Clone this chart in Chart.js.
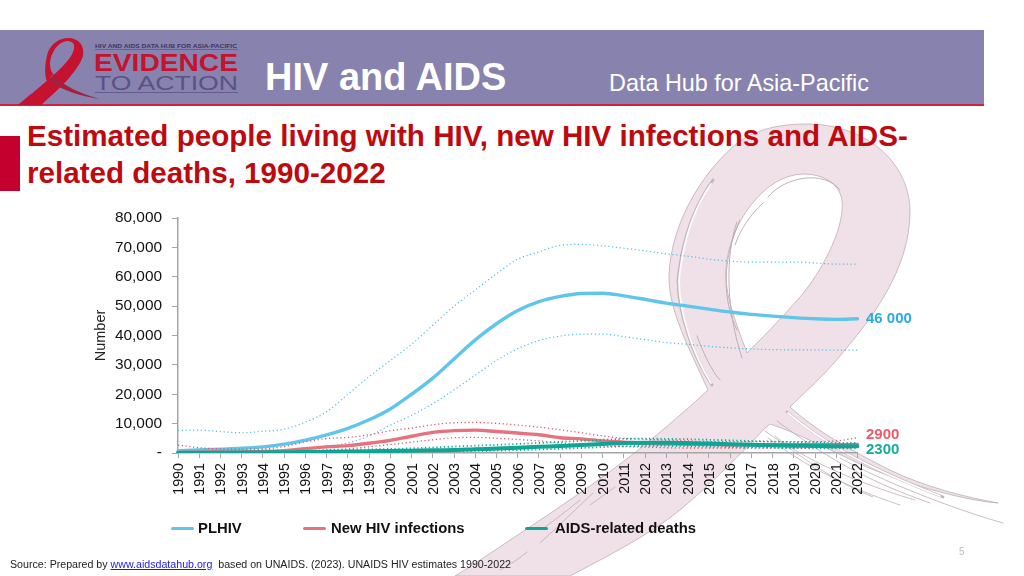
<!DOCTYPE html>
<html>
<head>
<meta charset="utf-8">
<script src="https://cdn.jsdelivr.net/npm/chart.js@4"></script>
<style>
  html, body { margin: 0; padding: 0; background: #fff; }
  body { position: relative; width: 1024px; height: 576px; overflow: hidden; font-family: "Liberation Sans", Arial, sans-serif; }
  .abs { position: absolute; white-space: nowrap; }
  #ribbon, #logo { position: absolute; left: 0; top: 0; }
  #header { position: absolute; left: 0; top: 30px; width: 984px; height: 74px; background: #8882ae; border-bottom: 2px solid #d4213f; box-sizing: content-box; }
  #title { left: 27px; top: 118px; font-size: 29.6px; line-height: 36.5px; font-weight: bold; color: #bd0a0f; }
  #redbar { position: absolute; left: 0; top: 136px; width: 20px; height: 55px; background: #c4002f; }
  canvas { position: absolute; left: 0; top: 0; }
  .key { top: 520px; font-size: 14.85px; font-weight: bold; color: #111; line-height: 17px; }
  .swatch { position: absolute; top: 526.5px; width: 23px; height: 3px; border-radius: 2px; }
  #source { left: 10px; top: 558px; font-size: 10.65px; color: #222; }
  #source a { color: #1a1ae0; }
</style>
</head>
<body>
<svg id="ribbon" width="1024" height="576" viewBox="0 0 1024 576">
  <path fill="#f0e0e7" stroke="#bcaeb4" stroke-width="0.8" fill-rule="evenodd" d="M708 390 C690 350 668 310 669 275 C671 225 700 175 735 145 C760 125 790 124 810 124 C870 126 910 165 910 212 C910 270 870 320 845 350 C825 375 805 392 790 407 C815 430 850 450 890 470 C925 487 965 497 998 503 C960 500 900 482 860 464 C830 450 795 432 770 424 L763 430 C745 450 710 485 680 510 C650 535 600 560 570 576 L455 576 C465 570 475 563 480 560 C540 520 600 482 653 438 C675 420 695 402 708 390 Z M747 353 C735 320 722 290 727 260 C733 220 765 175 803 174 C830 174 845 190 842 210 C840 240 815 280 800 297 C780 320 760 340 747 353 Z"/>
  <g fill="none" stroke-linecap="round">
    <path stroke="#c4b6bc" stroke-width="2.8" d="M713 180 C695 205 682 240 678 280 C678 315 695 360 712 385"/>
    <path stroke="#fff" stroke-width="1.8" d="M711 184 C695 207 683 240 679 280 C679 315 695 358 711 383"/>
    <path stroke="#b8aab0" stroke-width="0.9" d="M740 220 C722 260 722 300 737 330 M737 222 C725 255 726 310 742 358 M697 336 C702 350 712 372 720 380"/>
    <path stroke="#b8aab0" stroke-width="0.9" d="M768 197 C785 176 825 170 840 190 M763 203 C750 215 740 230 735 245"/>
    <path stroke="#c4b6bc" stroke-width="2.8" d="M787 412 C820 440 860 465 943 497"/>
    <path stroke="#fff" stroke-width="1.8" d="M788 413 C820 440 860 465 940 496"/>
    <path stroke="#bcaeb4" stroke-width="0.8" d="M840 458 C880 480 950 508 1003 523 M777 421 C810 445 850 475 930 503 M765 431 C790 448 830 480 873 497 M775 436 C810 465 880 490 915 500 M768 438 C800 462 840 485 900 505"/>
    <path stroke="#bcaeb4" stroke-width="0.8" d="M540 543 C560 525 580 505 593 493 M580 500 C565 512 555 520 545 527 M500 570 C510 565 520 558 527 552 M590 505 L615 487"/>
  </g>
</svg>

<div id="header"></div>
<div id="redbar"></div>

<svg id="logo" width="260" height="110" viewBox="0 0 260 110">
  <path fill="#c4122f" d="M18 105 C38 88 62 70 71 56 C77 46 74 41 67 41 C58 42 51 52 50 63 C50 68 51 71 53 74 L47 82 C44 74 45 62 48 52 C52 43 60 38 68 38 C79 38 85 46 83 56 C78 72 56 92 41 105 Z"/>
  <path fill="#a5203f" d="M53 74 C62 86 82 94 100 99 C80 96 62 90 50 82 Z"/>
  <text x="95" y="47.5" font-size="6" font-weight="bold" fill="#3d3565" textLength="142" lengthAdjust="spacingAndGlyphs">HIV AND AIDS DATA HUB FOR ASIA-PACIFIC</text>
  <line x1="95" y1="49.5" x2="238" y2="49.5" stroke="#5a5285" stroke-width="0.7"/>
  <text x="94" y="71" font-size="24.5" font-weight="bold" fill="#c4122f" textLength="144" lengthAdjust="spacingAndGlyphs">EVIDENCE</text>
  <text x="95" y="90" font-size="21" fill="#5a5285" textLength="143" lengthAdjust="spacingAndGlyphs">TO ACTION</text>
  <line x1="95" y1="92.5" x2="238" y2="92.5" stroke="#5a5285" stroke-width="0.8"/>
</svg>

<div class="abs" style="left:265px;top:55px;font-size:38px;line-height:44px;font-weight:bold;color:#fff;">HIV and AIDS</div>
<div class="abs" style="left:609px;top:69px;font-size:23.4px;line-height:28px;color:#fff;">Data Hub for Asia-Pacific</div>
<div class="abs" id="title">Estimated people living with HIV, new HIV infections and AIDS-<br>related deaths, 1990-2022</div>

<canvas id="chart" width="1024" height="576"></canvas>

<div class="swatch" style="left:171px;background:#5fc6ea;"></div>
<div class="abs key" style="left:198px;">PLHIV</div>
<div class="swatch" style="left:303px;background:#e8717d;"></div>
<div class="abs key" style="left:331px;">New HIV infections</div>
<div class="swatch" style="left:525px;background:#0fa596;"></div>
<div class="abs key" style="left:555px;">AIDS-related deaths</div>

<div class="abs" id="source">Source: Prepared by <a href="#">www.aidsdatahub.org</a>&nbsp; based on UNAIDS. (2023). UNAIDS HIV estimates 1990-2022</div>
<div class="abs" style="left:959px;top:546px;font-size:10px;color:#bdbdbd;">5</div>

<script>
const years = ["1990","1991","1992","1993","1994","1995","1996","1997","1998","1999","2000","2001","2002","2003","2004","2005","2006","2007","2008","2009","2010","2011","2012","2013","2014","2015","2016","2017","2018","2019","2020","2021","2022"];
const yTickLabels = ["-","10,000","20,000","30,000","40,000","50,000","60,000","70,000","80,000"];
const endLabels = ["46 000","2900","2300"];

const plhiv = [800,1000,1300,1600,2100,3000,4400,6200,8400,11300,15000,20000,25500,32000,38500,44000,48500,51500,53300,54300,54400,53500,52300,51000,50000,49000,48000,47200,46600,46100,45700,45500,45700];
const plhivHigh = [7700,7800,7300,6900,7400,8100,10500,14000,20000,26000,31500,37000,43500,50000,55500,61000,66000,68500,70700,71000,70500,69700,68800,67800,67000,66000,65300,65000,65000,65000,64700,64300,64300];
const plhivLow = [400,500,700,900,1200,1000,1600,2300,3400,5800,9500,12800,16800,21500,26500,31500,35500,38300,39800,40500,40500,39600,38600,37600,37000,36300,35800,35400,35200,35100,35100,35000,35000];

const newInf = [200,300,350,400,500,800,1500,2100,2500,3300,4300,5700,7000,7600,7800,7300,6800,6200,5200,4800,4100,3700,3300,3100,3000,2900,2800,2800,2800,2800,2800,2800,2900];
const newInfHigh = [2700,1800,1400,1300,1400,2200,3800,4900,5300,6200,7600,8500,9600,10300,10400,10100,9500,8800,7900,6900,5800,5000,4700,4400,4100,3900,3900,3900,3900,3900,3900,4100,5200];
const newInfLow = [100,150,200,300,300,500,800,1100,1400,2100,2900,3700,4500,5200,5300,5000,4600,4100,3400,2900,2500,2200,2000,1800,1700,1700,1700,1700,1700,1700,1800,1800,1900];

const deaths = [30,100,100,150,200,250,300,400,500,600,700,800,900,1000,1300,1500,1800,2100,2400,2700,3100,3400,3500,3500,3400,3200,3000,2800,2600,2500,2400,2300,2300];
const deathsHigh = [100,150,200,250,300,400,600,800,1000,1200,1400,1600,1900,2200,2500,2800,3100,3400,3800,4100,4500,4800,4900,4800,4700,4500,4300,4100,3900,3700,3600,3400,3400];
const deathsLow = [20,50,50,80,100,120,150,200,250,300,350,450,500,600,700,800,1000,1200,1400,1700,2000,2300,2400,2400,2300,2200,2100,1900,1800,1700,1600,1600,1600];

const blue = "#5fc6ea", red = "#e8717d", teal = "#0fa596";

function solid(label, data, color, order, w) {
  return { label, data, borderColor: color, borderWidth: w, pointRadius: 0, cubicInterpolationMode: "monotone", order, borderCapStyle: "round" };
}
function dotted(label, data, color, order, w) {
  return { label, data, borderColor: color, borderWidth: w, borderDash: [1.2, 2.6], pointRadius: 0, cubicInterpolationMode: "monotone", order };
}

// end of line values, placed next to the last point of each solid line
const endLabelPlugin = {
  id: "endLabels",
  afterDatasetsDraw(chart) {
    const ctx = chart.ctx;
    const rows = [[0, "#2aabe2", 0], [3, "#ee5a68", -9.5], [6, "#12ac9a", 4]];
    ctx.save();
    ctx.font = "bold 15px 'Liberation Sans'";
    ctx.textBaseline = "middle";
    rows.forEach(([idx, color, dy], i) => {
      const pts = chart.getDatasetMeta(idx).data;
      const p = pts[pts.length - 1];
      ctx.fillStyle = color;
      ctx.fillText(endLabels[i], p.x + 8.5, p.y + dy);
    });
    ctx.restore();
  }
};

new Chart(document.getElementById("chart"), {
  type: "line",
  data: {
    labels: years,
    datasets: [
      solid("PLHIV", plhiv, blue, 6, 3.4),
      dotted("PLHIV upper", plhivHigh, "#4fbfe4", 7, 1.2),
      dotted("PLHIV lower", plhivLow, "#4fbfe4", 7, 1.2),
      solid("New HIV infections", newInf, red, 4, 3.4),
      dotted("New upper", newInfHigh, "#e0506a", 5, 1.3),
      dotted("New lower", newInfLow, "#e0506a", 5, 1.3),
      solid("AIDS-related deaths", deaths, teal, 1, 4),
      dotted("Deaths upper", deathsHigh, teal, 2, 1.8),
      dotted("Deaths lower", deathsLow, teal, 2, 1.8),
    ],
  },
  options: {
    responsive: false,
    animation: false,
    layout: { padding: { left: 0, top: 218, right: 166.5, bottom: 0 } },
    plugins: { legend: { display: false }, tooltip: { enabled: false } },
    scales: {
      x: {
        offset: false,
        afterFit: s => { s.height = 123; },
        grid: { drawOnChartArea: false, color: "#a6a6a6", tickLength: 5, lineWidth: 1 },
        border: { color: "#a6a6a6", width: 1.5 },
        ticks: { autoSkip: false, minRotation: 90, maxRotation: 90, color: "#111", padding: 5, labelOffset: 1, font: { family: "Liberation Sans", size: 14.3 } },
      },
      y: {
        min: 0,
        max: 80000,
        afterFit: s => { s.width = 178; },
        grid: { drawOnChartArea: false, color: "#a6a6a6", tickLength: 6, lineWidth: 1 },
        border: { color: "#a6a6a6", width: 1.5 },
        title: { display: true, text: "Number", color: "#222", padding: { top: 92, bottom: 0 }, font: { family: "Liberation Sans", size: 14.5 } },
        ticks: {
          stepSize: 10000,
          color: "#111",
          padding: 10,
          font: { family: "Liberation Sans", size: 15.4 },
          callback: (v, i) => yTickLabels[i],
        },
      },
    },
  },
  plugins: [endLabelPlugin],
});
</script>
</body>
</html>
